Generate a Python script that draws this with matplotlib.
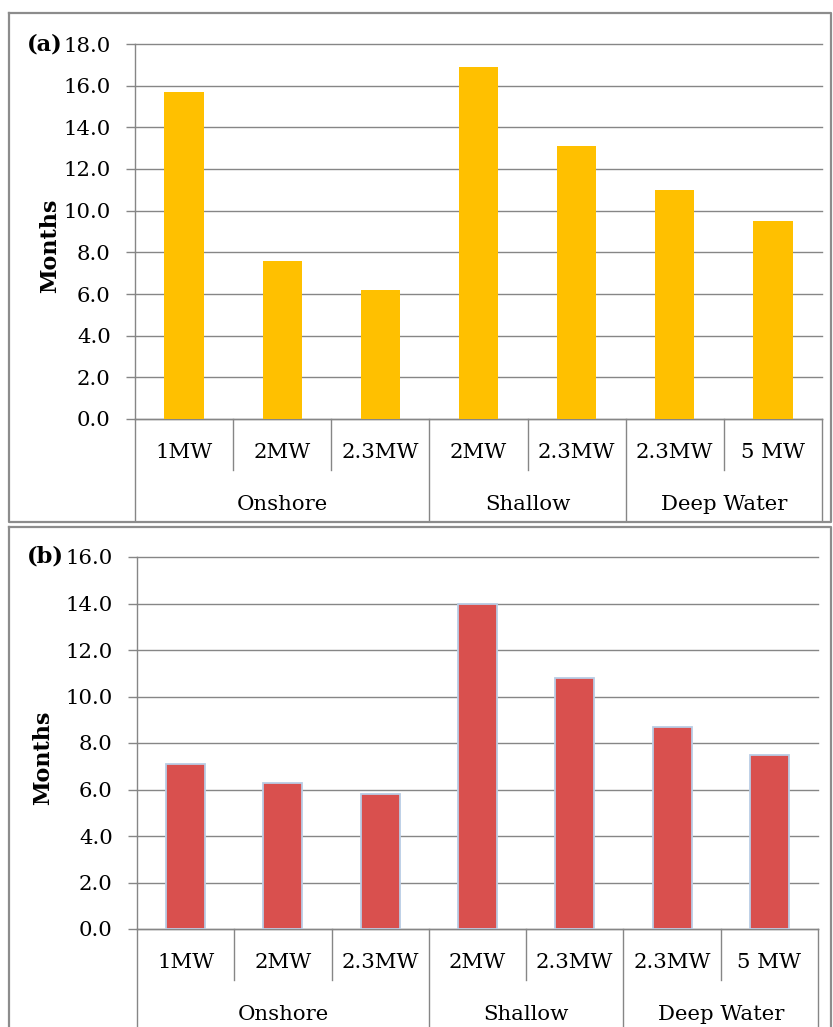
import matplotlib
matplotlib.use('Agg')
import matplotlib.pyplot as plt
from matplotlib.lines import Line2D
import matplotlib.transforms as mtransforms

# ---------------- data ----------------
categories = ["1MW", "2MW", "2.3MW", "2MW", "2.3MW", "2.3MW", "5 MW"]
groups = ["Onshore", "Shallow", "Deep Water"]
group_sizes = [3, 2, 2]
values_a = [15.7, 7.6, 6.2, 16.9, 13.1, 11.0, 9.5]
values_b = [7.1, 6.3, 5.8, 14.0, 10.8, 8.7, 7.5]
yticks_a = [0, 2, 4, 6, 8, 10, 12, 14, 16, 18]
yticks_b = [0, 2, 4, 6, 8, 10, 12, 14, 16]
ylabel = "Months"
tags = ["(a)", "(b)"]

# ---------------- style ----------------
W, H = 833, 1027
FONT = "DejaVu Serif"
FS = 15.3
GRAY = "#868686"
FRAME = "#8c8c8c"

plt.rcParams['font.family'] = [FONT]

fig = plt.figure(figsize=(W / 100, H / 100), dpi=100)


def fx(px):
    return px / W


def fy(py):
    return 1 - py / H


def panel(left, right, top, bottom, vals, yticks, color, edge, elw,
          tag, tag_y, ylab_xy):
    ax = fig.add_axes([fx(left), fy(bottom), (right - left) / W, (bottom - top) / H])
    n = len(vals)
    x = list(range(n))
    ax.bar(x, vals, width=0.4, color=color, edgecolor=edge, linewidth=elw, zorder=3)
    ax.set_xlim(-0.5, n - 0.5)
    ax.set_ylim(yticks[0], yticks[-1])
    ax.set_yticks(yticks)
    ax.set_yticklabels([f"{t:.1f}" for t in yticks])
    ax.set_xticks([])
    ax.grid(axis='y', color=GRAY, lw=1.0, zorder=0)
    for gl in ax.yaxis.get_gridlines():
        gl.set_clip_on(False)
    for s in ['top', 'right']:
        ax.spines[s].set_visible(False)
    for s in ['left', 'bottom']:
        ax.spines[s].set_color(GRAY)
        ax.spines[s].set_linewidth(1.0)
    ax.tick_params(axis='y', direction='out', length=6.5, width=1.0, color=GRAY,
                   pad=11, labelsize=FS)

    blend = mtransforms.blended_transform_factory(ax.transData, fig.transFigure)
    # separators
    acc = 0
    group_edges = [-0.5]
    for gs in group_sizes:
        acc += gs
        group_edges.append(acc - 0.5)
    for b in range(n + 1):
        xb = b - 0.5
        y2 = bottom + 102 if xb in group_edges else bottom + 51
        fig.add_artist(Line2D([xb, xb], [fy(bottom), fy(y2)], transform=blend,
                              color=GRAY, lw=1.0))
    # category labels
    for i, c in enumerate(categories):
        fig.text(i, fy(bottom + 33), c, transform=blend, ha='center', va='center',
                 fontsize=FS)
    # group labels
    start = 0
    for g, gs in zip(groups, group_sizes):
        cx = start + (gs - 1) / 2
        fig.text(cx, fy(bottom + 86), g, transform=blend, ha='center', va='center',
                 fontsize=FS)
        start += gs
    # tag and y label
    fig.text(fx(27), fy(tag_y), tag, ha='left', va='center', fontsize=16.2,
             fontweight='bold')
    fig.text(fx(ylab_xy[0]), fy(ylab_xy[1]), ylabel, rotation=90, ha='center',
             va='center', fontsize=16, fontweight='bold')
    return ax


panel(135, 822, 44, 419, values_a, yticks_a, "#FFC000", "#FFC000", 0.0,
      tags[0], 44, (50, 246))
panel(137, 818, 557, 929, values_b, yticks_b, "#D9504E", "#B9CDE5", 1.3,
      tags[1], 557, (43, 758))


# outer frames
def frame(l, t, r, b):
    fig.add_artist(Line2D([fx(l), fx(r), fx(r), fx(l), fx(l)],
                          [fy(t), fy(t), fy(b), fy(b), fy(t)],
                          transform=fig.transFigure, color=FRAME, lw=1.6))


frame(9, 13, 831, 522)
frame(9, 527, 831, 1040)

fig.savefig("out.png", dpi=100)
